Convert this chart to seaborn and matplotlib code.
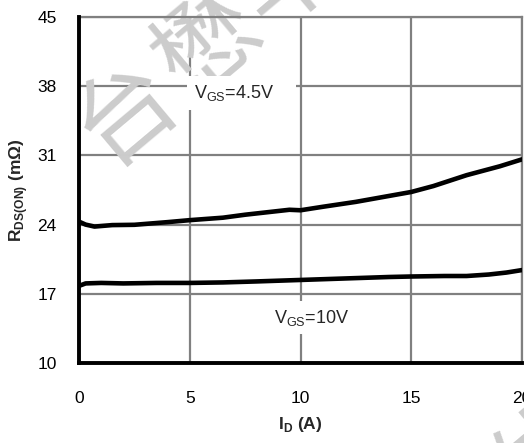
import matplotlib
matplotlib.use("Agg")
import matplotlib.pyplot as plt
import seaborn as sns
import pandas as pd

# Data
id_45 = [0, 0.3, 0.7, 1.5, 2.5, 4, 5, 6.5, 7.5, 8.5, 9.5, 10, 11, 12.5, 14, 15, 16, 17.5, 19, 20]
r_45 = [24.3, 24.0, 23.8, 23.95, 23.98, 24.25, 24.45, 24.7, 25.0, 25.25, 25.5, 25.45, 25.8, 26.3, 26.9, 27.3, 27.9, 29.0, 29.9, 30.6]
id_10 = [0, 0.3, 1, 2, 3.5, 5, 6.5, 8, 10, 12, 14, 15, 16.5, 17.5, 18.5, 19.3, 20]
r_10 = [17.8, 18.05, 18.1, 18.05, 18.1, 18.1, 18.15, 18.25, 18.4, 18.55, 18.7, 18.75, 18.8, 18.8, 18.95, 19.15, 19.4]
x_ticks = [0, 5, 10, 15, 20]
y_ticks = [10, 17, 24, 31, 38, 45]
watermark_chars = ["台", "懋", "半", "体"]

df = pd.concat([
    pd.DataFrame({"ID": id_45, "R": r_45, "VGS": "4.5V"}),
    pd.DataFrame({"ID": id_10, "R": r_10, "VGS": "10V"}),
])

sns.set_theme(style="white")
plt.rcParams["font.family"] = ["Liberation Sans", "DejaVu Sans"]
plt.rcParams["mathtext.fontset"] = "custom"
plt.rcParams["mathtext.rm"] = "Liberation Sans"
plt.rcParams["mathtext.sf"] = "Liberation Sans:weight=bold"
plt.rcParams["mathtext.bf"] = "Liberation Sans:weight=bold"

W, H = 524, 443
fig = plt.figure(figsize=(W / 100, H / 100), dpi=100)
ax = fig.add_axes([79 / W, 1 - 363 / H, (522 - 79) / W, (363 - 17) / H])

sns.lineplot(data=df, x="ID", y="R", hue="VGS", palette=["black", "black"],
             linewidth=3.3, legend=False, ax=ax, zorder=5, sort=False,
             estimator=None)

ax.set_xlim(0, 20)
ax.set_ylim(10, 45)
ax.set_xticks(x_ticks)
ax.set_yticks(y_ticks)
ax.set_xticklabels([str(t) for t in x_ticks], fontsize=12.5)
ax.set_yticklabels([str(t) for t in y_ticks], fontsize=12.5)
ax.tick_params(axis="x", pad=20, length=0, colors="black")
ax.tick_params(axis="y", pad=16, length=0, colors="black")
ax.grid(True, color="#808080", linewidth=1.6, zorder=1)
ax.set_axisbelow(True)

for s in ["top", "right"]:
    ax.spines[s].set_color("#808080")
    ax.spines[s].set_linewidth(1.6)
for s in ["left", "bottom"]:
    ax.spines[s].set_color("black")
    ax.spines[s].set_linewidth(2.8)
    ax.spines[s].set_zorder(6)

ax.set_xlabel(r"I$_{\mathsf{D}}$ (A)", fontsize=12.5, fontweight="bold", labelpad=7)
ax.set_ylabel(r"R$_{\mathsf{DS(ON)}}$ (mΩ)", fontsize=12.5,
              fontweight="bold", labelpad=5)

# Watermark (light gray, diagonal) -- inside the axes so annotation boxes cover it
wm_pos = [(127, 112), (208, 45), (289, -22), (548, 458)]
for ch, (px, py) in zip(watermark_chars, wm_pos):
    ax.text(px / W, 1 - py / H, ch, fontsize=72, color="#cccccc", rotation=40,
            family=["Noto Sans CJK SC", "DejaVu Sans"], fontweight="medium",
            ha="center", va="center", rotation_mode="anchor", zorder=2,
            transform=fig.transFigure, clip_on=False)

# Annotations with white boxes
ax.text(5.2, 37.3, r"V$_{\rm GS}$=4.5V    ", fontsize=13, va="center", ha="left",
        zorder=7, bbox=dict(facecolor="white", edgecolor="none", pad=5))
ax.text(8.8, 14.6, r"V$_{\rm GS}$=10V", fontsize=13, va="center", ha="left",
        zorder=7, bbox=dict(facecolor="white", edgecolor="none", pad=5))

fig.savefig("out.png", dpi=100)
